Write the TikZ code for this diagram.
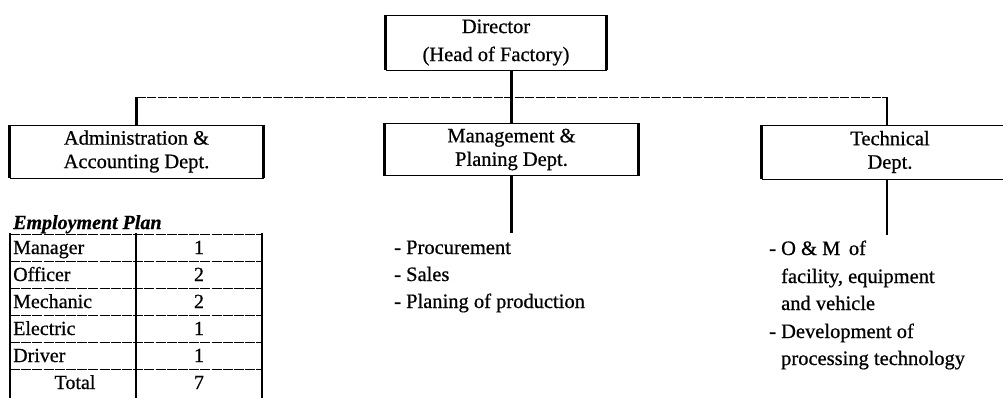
\documentclass[tikz,border=0pt]{standalone}
\usepackage{fontspec}
\setmainfont{Liberation Serif}[FakeBold=0.7]
\newcommand{\boxfont}{\fontsize{20.5}{23.5}\selectfont}
\newcommand{\listfont}{\fontsize{20.5}{27.5}\selectfont}
\newcommand{\cellfont}{\fontsize{20}{22}\selectfont}
\begin{document}
\begin{tikzpicture}[x=1pt,y=-1pt,
  unit/.style={draw, line width=0.9pt, inner sep=0pt, align=center,
    font=\boxfont, minimum width=#1},
  side/.style={line width=2.2pt},
  link/.style={line width=2.6pt},
  bus/.style={line width=0.8pt, dash pattern=on 9pt off 1.5pt},
  item/.style={anchor=base west, inner sep=0pt, font=\listfont},
  cell/.style={anchor=base west, inner sep=0pt, font=\cellfont},
  num/.style={anchor=base, inner sep=0pt, font=\cellfont},
  rule/.style={line width=0.7pt, dash pattern=on 10pt off 1.2pt},
  col/.style={line width=2pt}]
\useasboundingbox (0,0) rectangle (1003,398);
\clip (0,0) rectangle (1003,398);

% organisation units
\node[unit=220pt, minimum height=55pt, font=\fontsize{20.5}{28}\selectfont] (dir) at (496,42.5) {Director\\(Head of Factory)};
\node[unit=253pt, minimum height=53pt] (admin) at (136.5,151.5) {Administration \&\\Accounting Dept.};
\node[unit=253pt, minimum height=52pt] (mgmt)  at (511.5,149.5) {Management \&\\Planing Dept.};
\node[unit=250pt, minimum height=54pt] (tech)  at (887,152)   {\hspace*{6pt}Technical\\\hspace*{6pt}Dept.};

% heavier vertical sides of the boxes
\foreach \b in {dir,admin,mgmt,tech}
  \draw[side] (\b.north west) -- (\b.south west) (\b.north east) -- (\b.south east);

% branch line and drops
\coordinate (busL) at (admin.north |- 0,97);
\coordinate (busR) at (tech.north |- 0,97);
\draw[bus] (busL) -- (busR);
\draw[link] (mgmt.north) -- (mgmt.north |- dir.south);
\draw[link] (admin.north) -- (busL);
\draw[link] (tech.north) -- (busR);
\coordinate (mEnd) at (mgmt.south |- 0,233);
\coordinate (tEnd) at (tech.south |- 0,235);
\draw[link] (mgmt.south) -- (mEnd);
\draw[link] (tech.south) -- (tEnd);

% duties of the management department
\node[item] (m1) at (394,254) {- Procurement};
\node[item] (m2) at (394,281) {- Sales};
\node[item] (m3) at (394,308) {- Planing of production};

% duties of the technical department
\node[item] (t1) at (769,255) {- O \& M\, of};
\node[item] (t2) at (769,283) {\phantom{- }facility, equipment};
\node[item] (t3) at (769,310) {\phantom{- }and vehicle};
\node[item] (t4) at (769,338) {- Development of};
\node[item] (t5) at (769,365) {\phantom{- }processing technology};

% employment plan table
\node[anchor=base west, inner sep=0pt, font=\fontsize{20}{22}\selectfont\bfseries\itshape] (plan) at (13,229) {Employment Plan};
\foreach \y in {234,261,288,315,342,369}
  \draw[rule] (10,\y) -- (262,\y);
\draw[col] (10,233) -- (10,398);
\draw[col] (136,233) -- (136,398);
\draw[col] (262,233) -- (262,398);
\foreach \name/\n [count=\i] in {Manager/1,Officer/2,Mechanic/2,Electric/1,Driver/1}{
  \node[cell] (r\i) at (13,{234+27*(\i-1)+20}) {\name};
  \node[num] (v\i) at (199,{234+27*(\i-1)+20}) {\n};
}
\node[num] (r6) at (75,389) {Total};
\node[num] (v6) at (199,389) {7};
\end{tikzpicture}
\end{document}
